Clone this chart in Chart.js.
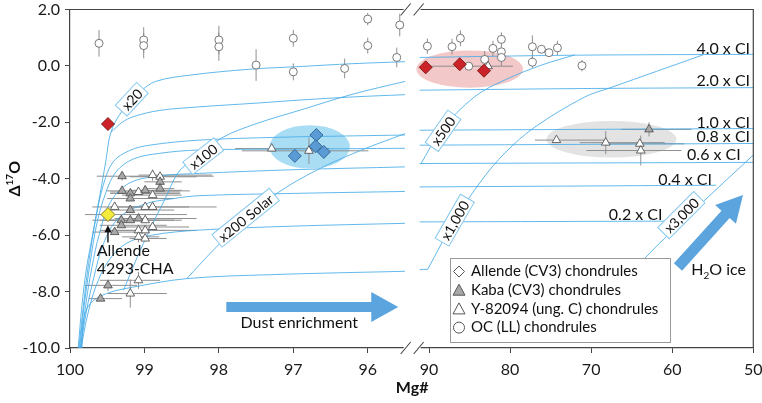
<!DOCTYPE html>
<html lang="en">
<head>
<meta charset="UTF-8">
<title>Δ17O vs Mg# of chondrules</title>
<script src="https://cdn.jsdelivr.net/npm/chart.js@4.4.1/dist/chart.umd.min.js"></script>
<style>
  html, body { margin: 0; padding: 0; background: #fff; }
  #wrap { width: 762px; height: 403px; }
</style>
</head>
<body>
<div id="wrap"><canvas id="chart" width="762" height="403"></canvas></div>
<script>
// ---------- data ----------
const leftTicks = [100, 99, 98, 97, 96];
const rightTicks = [90, 80, 70, 60, 50];
const yTicks = [2, 0, -2, -4, -6, -8, -10];

// model curves, left part of the broken Mg# axis
const x20Curve = [[99.89,-10],[99.84,-8.5],[99.78,-7.2],[99.69,-5.9],[99.6,-4.6],[99.52,-3.4],[99.45,-2.35],[99.3,-1.6],[99.05,-0.9],[98.85,-0.55],[98.4,-0.33],[97.6,-0.12],[96.9,-0.02],[96.2,0.08],[95.5,0.15]];
const iceL2 = [[99.45,-2.35],[99.3,-2.0],[99.15,-1.8],[98.8,-1.58],[98.26,-1.45],[97.5,-1.32],[96.91,-1.21],[96.2,-1.1],[95.5,-1.02]];
const iceL3 = [[99.88,-10],[99.82,-8.5],[99.75,-7.0],[99.66,-5.5],[99.55,-4.2],[99.42,-3.4],[99.2,-3.0],[98.93,-2.81],[98.26,-2.63],[97.2,-2.53],[96.2,-2.48],[95.5,-2.45]];
const iceL4 = [[99.87,-10],[99.81,-8.5],[99.73,-7.0],[99.64,-5.6],[99.52,-4.5],[99.38,-3.75],[99.15,-3.3],[98.8,-3.1],[98.26,-2.98],[97.0,-2.95],[95.5,-2.92]];
const iceL5 = [[99.86,-10],[99.79,-8.5],[99.71,-7.2],[99.6,-5.9],[99.45,-4.8],[99.2,-4.15],[98.8,-3.9],[98.26,-3.81],[97.0,-3.68],[95.5,-3.58]];
const iceL6 = [[99.86,-10],[99.78,-8.7],[99.68,-7.5],[99.55,-6.3],[99.35,-5.4],[99.0,-4.9],[98.6,-4.7],[98.26,-4.6],[97.0,-4.52],[95.5,-4.45]];
const iceL7 = [[99.85,-10],[99.77,-8.9],[99.65,-7.8],[99.48,-6.9],[99.25,-6.3],[98.9,-6.0],[98.26,-5.82],[97.0,-5.68],[95.5,-5.58]];
const iceL8 = [[99.84,-10],[99.82,-9.02],[99.73,-8.43],[99.51,-8.07],[99.15,-7.84],[98.43,-7.54],[97.3,-7.4],[95.5,-7.28]];
const x100Curve = [[99.28,-7.95],[99.1,-6.8],[98.93,-5.82],[98.72,-4.7],[98.52,-3.69],[98.21,-3.1],[97.96,-2.55],[97.5,-2.05],[96.91,-1.57],[96.2,-1.0],[95.5,-0.55]];
const x200Curve = [[98.43,-7.54],[98.1,-6.6],[97.64,-5.4],[97.21,-4.5],[96.69,-3.7],[96.1,-3.0],[95.5,-2.4]];

// model curves, right part (Mg# 92 - 50)
const ice40 = [[91.15,0.3],[72,0.38],[50,0.41]];
const ice20 = [[91.15,-0.86],[70,-0.8],[50,-0.77]];
const ice10 = [[91.15,-2.28],[50,-2.22]];
const ice08 = [[91.15,-2.81],[50,-2.75]];
const ice06 = [[91.15,-3.46],[50,-3.42]];
const ice04 = [[91.15,-4.29],[54.6,-4.23]];
const ice02 = [[91.15,-5.53],[58.3,-5.5]];
const ice00 = [[91.15,-7.22],[90.16,-7.21]];
const x500Curve = [[91.02,-3.48],[88.47,-2.28],[84.36,-1.09],[80.65,-0.5],[76.12,0.03],[72.01,0.39]];
const x1000Curve = [[90.16,-7.21],[86.83,-5.47],[83.49,-4.05],[80.65,-3.09],[76.95,-2.17],[70.78,-1.1],[67.69,-0.78],[56.21,0.39]];
const x3000Curve = [[65.5,-7.6],[63.4,-6.82],[56.5,-4.9],[50,-3.16]];

// OC (LL) chondrules: [Mg#, Δ17O, ±err Δ17O]
const ocLeft = [[99.61,0.8,0.47],[99.01,0.92,0.45],[99.01,0.72,0.45],[98.0,0.92,0.5],[98.0,0.68,0.5],[97.5,0.03,0.56],[97.0,0.98,0.3],[97.0,-0.21,0.3],[96.31,-0.09,0.35],[96.0,1.66,0.22],[96.0,0.72,0.28],[95.61,0.3,0.35],[95.57,1.45,0.4]];
const ocRight = [[90.2,0.7,0.27],[87.16,0.68,0.28],[86.13,0.98,0.28],[85.1,-0.01,0],[83.13,0.23,0.3],[82.11,0.62,0.27],[81.07,0.94,0.25],[81.07,0.5,0.2],[81.07,0.3,0.3],[77.25,0.68,0.4],[77.25,0.13,0.2],[76.13,0.59,0],[75.2,0.47,0],[74.16,0.64,0.25],[71.13,0.01,0.2]];

// triangles: [Mg#, Δ17O, Mg# bar high, Mg# bar low, ±err Δ17O]
const y82Left = [[97.29,-2.93,97.78,96.51,0],[96.79,-3.01,97.69,95.99,0.47],[98.89,-3.87,99.08,98.09,0.2],[98.79,-3.93,99.2,98.3,0],[99.08,-4.47,99.46,98.52,0],[98.89,-4.58,99.3,98.5,0],[99.4,-5.0,99.7,98.9,0],[98.99,-5.0,99.46,98.03,0],[98.89,-5.0,99.2,98.4,0],[98.99,-5.47,99.5,98.6,0],[98.89,-5.71,99.3,98.4,0],[99.08,-5.83,99.6,98.3,0],[98.99,-5.83,99.4,98.7,0],[99.08,-6.06,99.3,98.8,0.2],[98.99,-6.12,99.2,98.7,0],[99.08,-7.6,99.6,98.79,0.3],[99.19,-8.07,99.49,98.7,0.5]];
const kabaLeft = [[99.3,-3.91,99.64,98.07,0.15],[99.3,-4.43,99.51,98.39,0],[99.19,-4.52,99.46,98.52,0],[99.19,-4.7,99.5,98.6,0],[98.99,-4.41,99.2,98.5,0],[98.79,-4.11,99.0,98.5,0.15],[98.79,-4.35,99.0,98.6,0],[99.19,-5.11,99.5,98.6,0],[99.19,-5.47,99.6,98.5,0],[99.31,-5.47,99.7,98.8,0],[99.31,-5.65,99.6,98.7,0],[99.08,-5.41,99.4,98.3,0],[99.4,-5.89,99.7,99.0,0],[99.49,-7.78,99.8,99.1,0.2],[99.59,-8.25,99.75,99.3,0]];
const y82Right = [[82.72,-0.01,90.94,79.64,0],[74.28,-2.63,76.93,68.32,0],[68.2,-2.72,71.41,60.93,0.41],[64.0,-2.76,68.12,58.5,0],[63.88,-3.0,70.58,58.87,0.53]];
const kabaRight = [[62.86,-2.25,66.27,57.63,0.25]];

// Allende (CV3) chondrules
const allendeRedLeft = [[99.49,-2.06]];
const allendeRedRight = [[90.41,-0.05],[86.21,0.06],[83.22,-0.17]];
const allendeBlue = [[96.69,-2.45],[96.7,-2.85],[96.59,-3.05],[96.98,-3.19]];
const allendeCHA = [[99.49,-5.27,99.8,98.43]];

// shaded groups: [centre Mg#, centre Δ17O, half width Mg#, half height Δ17O]
const blueGroup = [96.78,-2.87,0.54,0.77];
const redGroup = [84.98,-0.11,6.58,0.66];
const greyGroup = [67.5,-2.6,8.02,0.65];

// curve labels: [text, Mg#, Δ17O, angle]
const dustLabelsLeft = [['x20',99.17,-1.18,-47],['x100',98.21,-3.2,-38],['x200 Solar',97.64,-5.38,-39]];
const dustLabelsRight = [['x500',88.27,-2.3,-55],['x1,000',86.83,-5.47,-60],['x3,000',58.87,-5.29,-45]];
const iceLabels = [['4.0 x CI',50.4,0.62],['2.0 x CI',50.4,-0.54],['1.0 x CI',50.4,-2.02],['0.8 x CI',50.4,-2.51],['0.6 x CI',51.55,-3.16],['0.4 x CI',55.1,-4.05],['0.2 x CI',61.2,-5.29]];

const legendItems = ['Allende (CV3) chondrules', 'Kaba (CV3) chondrules', 'Y-82094 (ung. C) chondrules', 'OC (LL) chondrules'];

// ---------- chart ----------
const FONT = 'Lato, "Open Sans", sans-serif';
const CURVE = 'rgba(70,172,232,0.85)';
const ARROW = '#5ba4de';
Chart.defaults.font.family = FONT;
Chart.defaults.color = '#1a1a1a';

const xy = a => a.map(p => ({x: p[0], y: p[1]}));
const curve = (d, axis) => ({data: xy(d), xAxisID: axis, showLine: true, borderColor: CURVE,
  borderWidth: 1, pointRadius: 0, tension: 0.35, order: 5});
const marks = (d, axis, style, r, fill, stroke, order) => ({data: xy(d), xAxisID: axis,
  showLine: false, pointStyle: style, pointRadius: r, backgroundColor: fill,
  borderColor: stroke, borderWidth: 0.9, order: order});

const datasets = [
  curve(x20Curve,'xl'), curve(iceL2,'xl'), curve(iceL3,'xl'), curve(iceL4,'xl'), curve(iceL5,'xl'),
  curve(iceL6,'xl'), curve(iceL7,'xl'), curve(iceL8,'xl'), curve(x100Curve,'xl'), curve(x200Curve,'xl'),
  curve(ice40,'xr'), curve(ice20,'xr'), curve(ice10,'xr'), curve(ice08,'xr'), curve(ice06,'xr'),
  curve(ice04,'xr'), curve(ice02,'xr'), curve(ice00,'xr'), curve(x500Curve,'xr'),
  curve(x1000Curve,'xr'), curve(x3000Curve,'xr'),
  marks(ocLeft,'xl','circle',4,'#fff','#6a6a6a',3),
  marks(ocRight,'xr','circle',4,'#fff','#6a6a6a',3),
  marks(kabaLeft,'xl','triangle',5,'#a8a8a8','#555',2),
  marks(kabaRight,'xr','triangle',5,'#a8a8a8','#555',2),
  marks(y82Left,'xl','triangle',5,'#fff','#555',2),
  marks(y82Right,'xr','triangle',5,'#fff','#555',2),
  marks(allendeRedLeft,'xl','rectRot',6.5,'#cc2229','#7a1212',0),
  marks(allendeRedRight,'xr','rectRot',6.5,'#cc2229','#7a1212',0),
  marks(allendeBlue,'xl','rectRot',6.5,'#5b9bd5','#2b5f8c',0),
  marks(allendeCHA,'xl','rectRot',7,'#f3ea3c','#7a7420',0)
];

function arrow(ctx, x0, y0, x1, y1, shaft, headL, headW, color) {
  const a = Math.atan2(y1 - y0, x1 - x0), len = Math.hypot(x1 - x0, y1 - y0);
  ctx.save();
  ctx.translate(x0, y0); ctx.rotate(a);
  ctx.fillStyle = color;
  ctx.beginPath();
  ctx.moveTo(0, -shaft / 2); ctx.lineTo(len - headL, -shaft / 2); ctx.lineTo(len - headL, -headW / 2);
  ctx.lineTo(len, 0); ctx.lineTo(len - headL, headW / 2); ctx.lineTo(len - headL, shaft / 2);
  ctx.lineTo(0, shaft / 2); ctx.closePath(); ctx.fill();
  ctx.restore();
}

function boxLabel(ctx, text, px, py, angle) {
  ctx.save();
  ctx.translate(px, py); ctx.rotate(angle * Math.PI / 180);
  ctx.font = '14px ' + FONT;
  const w = ctx.measureText(text).width + 8, h = 16;
  ctx.fillStyle = '#fff'; ctx.fillRect(-w / 2, -h / 2, w, h);
  ctx.strokeStyle = '#86c8ee'; ctx.lineWidth = 1; ctx.strokeRect(-w / 2, -h / 2, w, h);
  ctx.fillStyle = '#111'; ctx.textAlign = 'center'; ctx.textBaseline = 'middle';
  ctx.fillText(text, 0, 1);
  ctx.restore();
}

function shape(ctx, kind, x, y, fill) {
  ctx.beginPath();
  if (kind === 'diamond') { ctx.moveTo(x - 5.5, y); ctx.lineTo(x, y - 5.5); ctx.lineTo(x + 5.5, y); ctx.lineTo(x, y + 5.5); }
  else if (kind === 'triangle') { ctx.moveTo(x, y - 6); ctx.lineTo(x + 6, y + 5); ctx.lineTo(x - 6, y + 5); }
  else { ctx.arc(x, y, 5.5, 0, Math.PI * 2); }
  ctx.closePath();
  ctx.fillStyle = fill; ctx.fill();
  ctx.strokeStyle = '#555'; ctx.lineWidth = 1; ctx.stroke();
}

const overlay = {
  id: 'overlay',
  beforeDatasetsDraw(chart) {
    const ctx = chart.ctx, ys = chart.scales.y, xl = chart.scales.xl, xr = chart.scales.xr;
    const area = chart.chartArea;
    ctx.save();
    ctx.beginPath(); ctx.rect(area.left, area.top, area.width, area.height); ctx.clip();
    // shaded groups
    [[blueGroup, xl, 'rgba(140,210,240,0.75)'], [redGroup, xr, 'rgba(236,170,170,0.65)'], [greyGroup, xr, 'rgba(215,215,215,0.7)']]
      .forEach(([g, xs, col]) => {
        const cx = xs.getPixelForValue(g[0]), cy = ys.getPixelForValue(g[1]);
        const rx = Math.abs(xs.getPixelForValue(g[0] + g[2]) - cx), ry = Math.abs(ys.getPixelForValue(g[1] + g[3]) - cy);
        ctx.beginPath(); ctx.ellipse(cx, cy, rx, ry, 0, 0, Math.PI * 2);
        ctx.fillStyle = col; ctx.fill();
      });
    // error bars
    ctx.strokeStyle = '#8f8f8f'; ctx.lineWidth = 1;
    const line = (x0, y0, x1, y1) => { ctx.beginPath(); ctx.moveTo(x0, y0); ctx.lineTo(x1, y1); ctx.stroke(); };
    [[ocLeft, xl], [ocRight, xr]].forEach(([rows, xs]) => rows.forEach(r => {
      if (!r[2]) return;
      const px = xs.getPixelForValue(r[0]);
      line(px, ys.getPixelForValue(r[1] - r[2]), px, ys.getPixelForValue(r[1] + r[2]));
    }));
    [[y82Left, xl], [kabaLeft, xl], [y82Right, xr], [kabaRight, xr], [allendeCHA, xl]].forEach(([rows, xs]) => rows.forEach(r => {
      const py = ys.getPixelForValue(r[1]);
      line(xs.getPixelForValue(r[2]), py, xs.getPixelForValue(r[3]), py);
      if (r[4]) {
        const px = xs.getPixelForValue(r[0]);
        line(px, ys.getPixelForValue(r[1] - r[4]), px, ys.getPixelForValue(r[1] + r[4]));
      }
    }));
    ctx.restore();
  },
  afterDatasetsDraw(chart) {
    const ctx = chart.ctx, ys = chart.scales.y, xl = chart.scales.xl, xr = chart.scales.xr;
    const area = chart.chartArea;
    ctx.save();
    // rotated labels on dust-enrichment curves
    dustLabelsLeft.forEach(l => boxLabel(ctx, l[0], xl.getPixelForValue(l[1]), ys.getPixelForValue(l[2]), l[3]));
    dustLabelsRight.forEach(l => boxLabel(ctx, l[0], xr.getPixelForValue(l[1]), ys.getPixelForValue(l[2]), l[3]));
    // ice labels
    ctx.font = '16px ' + FONT; ctx.fillStyle = '#111'; ctx.textAlign = 'right'; ctx.textBaseline = 'middle';
    iceLabels.forEach(l => ctx.fillText(l[0], xr.getPixelForValue(l[1]), ys.getPixelForValue(l[2])));

    // dust enrichment arrow
    const dy = ys.getPixelForValue(-8.55);
    arrow(ctx, xl.getPixelForValue(97.9), dy, xl.getPixelForValue(95.59), dy, 10, 27, 30, ARROW);
    ctx.textAlign = 'center'; ctx.fillStyle = '#111';
    ctx.fillText('Dust enrichment', xl.getPixelForValue(96.92), ys.getPixelForValue(-9.1));

    // H2O ice arrow
    arrow(ctx, xr.getPixelForValue(59.29), ys.getPixelForValue(-7.13), xr.getPixelForValue(51.27), ys.getPixelForValue(-4.58), 11, 26, 28, ARROW);
    let hx = xr.getPixelForValue(57.65), hy = ys.getPixelForValue(-7.24);
    ctx.textAlign = 'left';
    ctx.fillText('H', hx, hy); hx += ctx.measureText('H').width;
    ctx.font = '10px ' + FONT; ctx.fillText('2', hx, hy + 6); hx += ctx.measureText('2').width;
    ctx.font = '16px ' + FONT; ctx.fillText('O ice', hx, hy);

    // Allende 4293-CHA note
    const ax = xl.getPixelForValue(99.49);
    ctx.strokeStyle = '#111'; ctx.lineWidth = 1.4;
    ctx.beginPath(); ctx.moveTo(ax, ys.getPixelForValue(-6.26)); ctx.lineTo(ax, ys.getPixelForValue(-5.8)); ctx.stroke();
    ctx.fillStyle = '#111';
    const ty = ys.getPixelForValue(-5.65);
    ctx.beginPath(); ctx.moveTo(ax, ty); ctx.lineTo(ax + 3.5, ty + 7); ctx.lineTo(ax - 3.5, ty + 7); ctx.closePath(); ctx.fill();
    ctx.font = '16px ' + FONT;
    ctx.fillText('Allende', xl.getPixelForValue(99.64), ys.getPixelForValue(-6.55));
    ctx.fillText('4293-CHA', xl.getPixelForValue(99.64), ys.getPixelForValue(-7.18));

    // legend box
    const lx = area.left + 380, ly = area.top + 248.5;
    ctx.fillStyle = '#fff'; ctx.fillRect(lx, ly, 220, 84);
    ctx.strokeStyle = '#9a9a9a'; ctx.lineWidth = 1; ctx.strokeRect(lx + 0.5, ly + 0.5, 220, 84);
    const kinds = [['diamond', '#fff'], ['triangle', '#a8a8a8'], ['triangle', '#fff'], ['circle', '#fff']];
    ctx.font = '15px ' + FONT; ctx.textBaseline = 'middle'; ctx.textAlign = 'left';
    legendItems.forEach((t, i) => {
      const iy = ly + 13.5 + i * 18.7;
      shape(ctx, kinds[i][0], lx + 9, iy, kinds[i][1]);
      ctx.fillStyle = '#111'; ctx.fillText(t, lx + 21, iy);
    });

    // frame (top and right) with axis break
    ctx.strokeStyle = '#444'; ctx.lineWidth = 1.2;
    ctx.beginPath(); ctx.moveTo(area.left, area.top); ctx.lineTo(area.right, area.top); ctx.lineTo(area.right, area.bottom); ctx.stroke();
    const bx = xl.right;
    ctx.fillStyle = '#fff';
    ctx.fillRect(bx - 8, area.top - 2, 17, 4);
    ctx.fillRect(bx - 8, area.bottom - 2, 17, 4);
    ctx.lineWidth = 1.1;
    [area.top, area.bottom].forEach(yy => {
      [-6, 7].forEach(o => {
        ctx.beginPath(); ctx.moveTo(bx + o - 5, yy + 6); ctx.lineTo(bx + o + 5, yy - 6); ctx.stroke();
      });
    });

    // axis titles
    ctx.fillStyle = '#111'; ctx.textAlign = 'center';
    ctx.font = 'bold 16px ' + FONT;
    ctx.fillText('Mg#', (area.left + area.right) / 2 + 0.5, 388);
    ctx.save();
    ctx.translate(15, (area.top + area.bottom) / 2); ctx.rotate(-Math.PI / 2);
    ctx.textAlign = 'left';
    const w1 = ctx.measureText('Δ').width, w3 = ctx.measureText('O').width;
    ctx.font = 'bold 10px ' + FONT; const w2 = ctx.measureText('17').width;
    let sx = -(w1 + w2 + w3) / 2;
    ctx.font = 'bold 16px ' + FONT; ctx.fillText('Δ', sx, 0); sx += w1;
    ctx.font = 'bold 10px ' + FONT; ctx.fillText('17', sx, -5); sx += w2;
    ctx.font = 'bold 16px ' + FONT; ctx.fillText('O', sx, 0);
    ctx.restore();
    ctx.restore();
  }
};

const axisStyle = {
  grid: {drawOnChartArea: false, drawTicks: true, tickLength: 5, color: '#444'},
  border: {color: '#444', width: 1.2}
};
const fitX = s => { s.height = 55; s.paddingLeft = 0; s.paddingRight = 0; };

new Chart(document.getElementById('chart'), {
  type: 'scatter',
  data: {datasets},
  options: {
    responsive: false,
    animation: false,
    events: [],
    layout: {padding: {top: 9.5, right: 8.7, left: 0, bottom: 0}},
    plugins: {legend: {display: false}, tooltip: {enabled: false}},
    scales: {
      xl: Object.assign({
        type: 'linear', position: 'bottom', stack: 'mg', stackWeight: 1, reverse: true,
        min: 95.41, max: 100,
        afterBuildTicks: s => { s.ticks = leftTicks.map(v => ({value: v})); },
        afterFit: fitX,
        ticks: {font: {size: 16}, padding: 7, maxRotation: 0}
      }, axisStyle),
      xr: Object.assign({
        type: 'linear', position: 'bottom', stack: 'mg', stackWeight: 1, reverse: true,
        min: 50, max: 92.14,
        afterBuildTicks: s => { s.ticks = rightTicks.map(v => ({value: v})); },
        afterFit: fitX,
        ticks: {font: {size: 16}, padding: 7, maxRotation: 0}
      }, axisStyle),
      y: Object.assign({
        type: 'linear', position: 'left', min: -10, max: 2,
        afterBuildTicks: s => { s.ticks = yTicks.map(v => ({value: v})); },
        afterFit: s => { s.width = 70; s.paddingTop = 0; s.paddingBottom = 0; },
        ticks: {font: {size: 16}, padding: 5, callback: v => v.toFixed(1)}
      }, axisStyle)
    }
  },
  plugins: [overlay]
});
</script>
</body>
</html>
